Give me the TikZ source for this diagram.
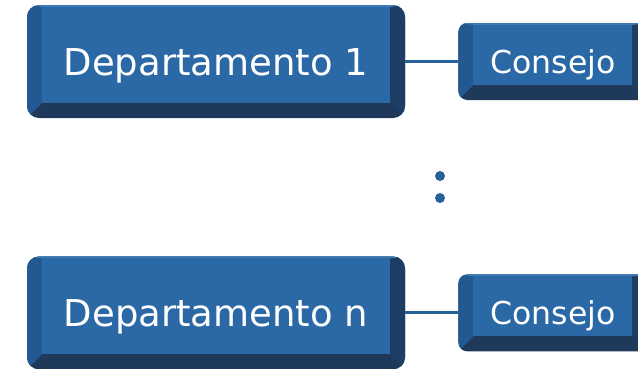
\documentclass[tikz,border=0pt]{standalone}
\usepackage{fontspec}
\setmainfont{DejaVu Sans}
\usetikzlibrary{positioning,calc}
\definecolor{facecol}{RGB}{42,105,166}
\definecolor{leftcol}{RGB}{34,89,146}
\definecolor{rightcol}{RGB}{29,62,100}
\definecolor{basecol}{RGB}{30,57,90}
\definecolor{topcol}{RGB}{58,122,182}
\definecolor{linecol}{RGB}{40,96,154}
\tikzset{
  bevelled/.style={
    fill=basecol, text=white, inner sep=0pt,
    path picture={
      \path (path picture bounding box.north west) coordinate (bnw)
            (path picture bounding box.south east) coordinate (bse);
      \begin{scope}[sharp corners]
      \fill[rightcol] (bse-|bse) -- (bnw-|bse) -- ($(bnw-|bse)+(-15pt,-2pt)$) -- ($(bse)+(-15pt,15pt)$) -- cycle;
      \fill[leftcol] (bnw) -- (bnw|-bse) -- ($(bnw|-bse)+(15pt,15pt)$) -- ($(bnw)+(15pt,-2pt)$) -- cycle;
      \fill[topcol] (bnw) -- (bnw-|bse) -- ($(bnw-|bse)+(-15pt,-2pt)$) -- ($(bnw)+(15pt,-2pt)$) -- cycle;
      \fill[facecol] ($(bnw)+(15pt,-2pt)$) rectangle ($(bse)+(-15pt,15pt)$);
      \end{scope}
    }},
  deptbox/.style={bevelled, rounded corners=12pt, minimum width=378pt, minimum height=113pt,
    font=\fontsize{37}{40}\selectfont, text height=27pt, text depth=0pt},
  consbox/.style={bevelled, rounded corners=9pt, minimum width=189pt, minimum height=77pt,
    font=\fontsize{31.5}{34}\selectfont, text height=23pt, text depth=0pt},
  dot/.style={circle, fill=linecol, inner sep=0pt, minimum size=10pt}
}
\begin{document}
\begin{tikzpicture}[
                            node distance=53pt
                        ]
                        \useasboundingbox (0,0) rectangle (638pt,-368pt);
                        \clip (0,0) rectangle (638pt,-368pt);
                        % Blocks
                        \node [deptbox] (dep1) at (216pt,-61.5pt) {Departamento 1};
                        \node [consbox,right=of dep1] (cons1) {Consejo};
                        \node [deptbox,below=138pt of dep1] (depn) {Departamento n};
                        \node [consbox,right=of depn] (consn) {Consejo};
                        \node [dot] (dotA) at (440pt,-176pt) {};
                        \node [dot] (dotB) at (440pt,-198pt) {};

                        % Connections
                        \draw [linecol,line width=3pt] (dep1) -- (cons1);
                        \draw [linecol,line width=3pt] (depn) -- (consn);
                    \end{tikzpicture}
\end{document}
